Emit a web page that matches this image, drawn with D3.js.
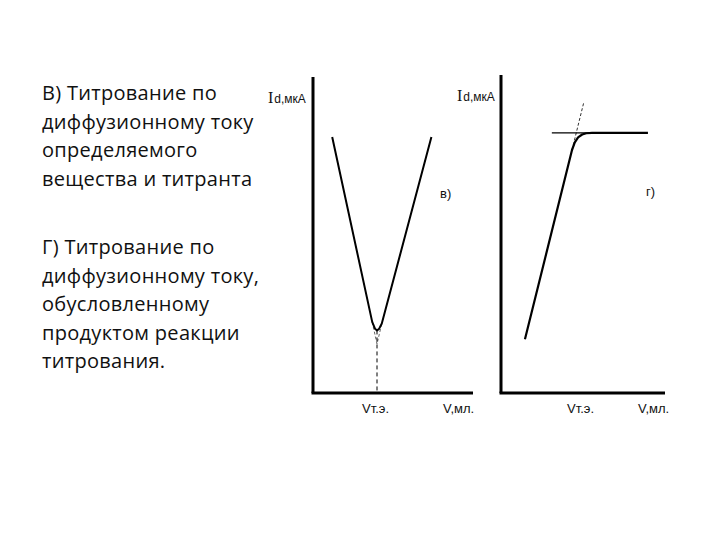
<!DOCTYPE html>
<html>
<head>
<meta charset="utf-8">
<script src="https://cdn.jsdelivr.net/npm/d3@7"></script>
<style>
  body { margin: 0; background: #fff; }
  .txt { font-family: "Open Sans", sans-serif; font-size: 20px; letter-spacing: 0.3px; fill: #111; }
  .lbl { font-family: "Liberation Sans", Arial, sans-serif; font-size: 13px; fill: #111; }
</style>
</head>
<body>
<svg id="chart" width="720" height="540"></svg>
<script>
// text block on the left
var linesV = ['В) Титрование по', 'диффузионному току', 'определяемого', 'вещества и титранта'];
var linesG = ['Г) Титрование по', 'диффузионному току,', 'обусловленному', 'продуктом реакции', 'титрования.'];

// panel в): current drops to a minimum at the equivalence point, then rises
var curveV = [[12, 81], [37, 22.5], [38.8, 20.3], [40, 19.8], [41.3, 20.3], [43, 22], [74, 81]];
var extrapV = [[37, 22.5], [40, 15.5], [43, 22]];
var eqV = 40;

// panel г): current rises in a straight line, then levels off
var curveG = [[14.6, 17], [43.3, 76.9], [45, 79.3], [47, 80.9], [49.5, 81.8], [52, 82.2], [55.5, 82.3], [89.6, 82.3]];
var slopeG = [[43.3, 76.9], [50.4, 91.8]];
var tangentG = [[31, 82.3], [55.5, 82.3]];

var svg = d3.select('#chart');

// left text
var t = svg.append('g');
t.selectAll('.a').data(linesV).enter().append('text')
  .attr('class', 'txt').attr('x', 42)
  .attr('y', function(d, i) { return 100 + i * 28.5; })
  .text(function(d) { return d; });
t.selectAll('.b').data(linesG).enter().append('text')
  .attr('class', 'txt').attr('x', 42)
  .attr('y', function(d, i) { return 254 + i * 28.5; })
  .text(function(d) { return d; });

function panel(x0, x1, yTop) {
  var x = d3.scaleLinear().domain([0, 100]).range([x0, x1]),
      y = d3.scaleLinear().domain([0, 100]).range([393, 77]);
  var g = svg.append('g');
  // axes as plain thick lines (no ticks in the figure)
  g.append('line').attr('x1', x(0)).attr('x2', x(0)).attr('y1', yTop).attr('y2', y(0))
    .attr('stroke', '#000').attr('stroke-width', 3);
  g.append('line').attr('x1', x(0) - 1.5).attr('x2', x(100)).attr('y1', y(0)).attr('y2', y(0))
    .attr('stroke', '#000').attr('stroke-width', 3);
  return {g: g, x: x, y: y};
}

function yLabel(g, px, py) {
  var l = g.append('text').attr('x', px).attr('y', py).attr('class', 'lbl');
  l.append('tspan').attr('font-family', '"Liberation Serif", serif').attr('font-size', 16).text('I');
  l.append('tspan').attr('font-size', 12).attr('dx', 1).text('d,мкA');
}

var pV = panel(313, 473, 77);
var lineV = d3.line().x(function(d) { return pV.x(d[0]); }).y(function(d) { return pV.y(d[1]); });

pV.g.append('path').datum(extrapV).attr('d', lineV)
  .attr('fill', 'none').attr('stroke', '#666').attr('stroke-width', 1).attr('stroke-dasharray', '3,2');
pV.g.append('line').attr('x1', pV.x(eqV)).attr('x2', pV.x(eqV)).attr('y1', pV.y(19.8)).attr('y2', pV.y(0))
  .attr('stroke', '#000').attr('stroke-width', 1).attr('stroke-dasharray', '4,3');
pV.g.append('path').datum(curveV).attr('d', lineV)
  .attr('fill', 'none').attr('stroke', '#000').attr('stroke-width', 2)
  .attr('stroke-linejoin', 'round');

yLabel(pV.g, 268, 103);
pV.g.append('text').attr('class', 'lbl').attr('x', 440).attr('y', 198).text('в)');
pV.g.append('text').attr('class', 'lbl').attr('x', 362).attr('y', 413).text('Vт.э.');
pV.g.append('text').attr('class', 'lbl').attr('x', 443).attr('y', 413).text('V,мл.');

var pG = panel(501, 665, 75);
var lineG = d3.line().x(function(d) { return pG.x(d[0]); }).y(function(d) { return pG.y(d[1]); });

pG.g.append('path').datum(slopeG).attr('d', lineG)
  .attr('fill', 'none').attr('stroke', '#333').attr('stroke-width', 1).attr('stroke-dasharray', '3,2');
pG.g.append('path').datum(tangentG).attr('d', lineG)
  .attr('fill', 'none').attr('stroke', '#000').attr('stroke-width', 1.2);
pG.g.append('path').datum(curveG).attr('d', lineG)
  .attr('fill', 'none').attr('stroke', '#000').attr('stroke-width', 2.2)
  .attr('stroke-linejoin', 'round');

yLabel(pG.g, 457, 101);
pG.g.append('text').attr('class', 'lbl').attr('x', 646).attr('y', 196).text('г)');
pG.g.append('text').attr('class', 'lbl').attr('x', 567).attr('y', 413).text('Vт.э.');
pG.g.append('text').attr('class', 'lbl').attr('x', 638).attr('y', 413).text('V,мл.');
</script>
</body>
</html>
